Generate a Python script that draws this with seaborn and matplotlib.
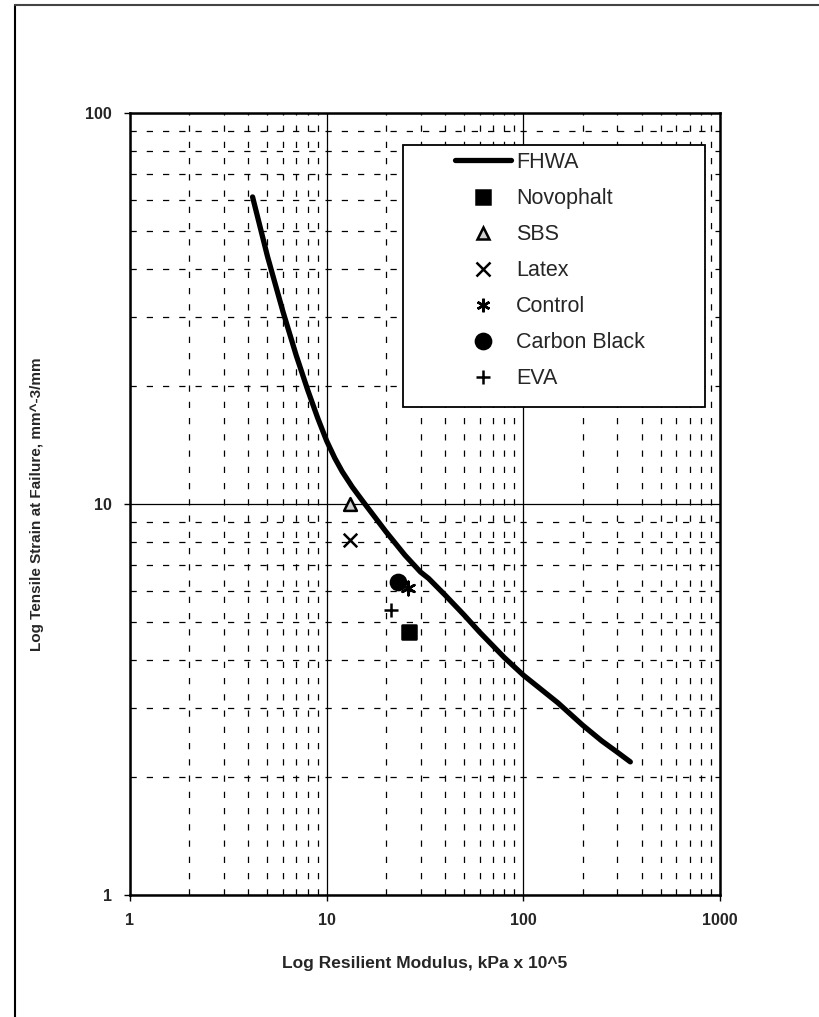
import numpy as np
import pandas as pd
import matplotlib
matplotlib.use("Agg")
import matplotlib.pyplot as plt
import seaborn as sns
from matplotlib.lines import Line2D
from matplotlib.patches import Rectangle
from matplotlib.ticker import LogLocator, NullFormatter, FixedLocator
from matplotlib import font_manager

# FHWA reference curve
fhwa_modulus = [4.2, 5.0, 6.0, 7.0, 8.0, 9.0, 10.0, 11.0, 12.0, 13.5, 15.3, 20.0, 25.0, 30.0, 33.0, 40.0, 50.0, 60.0, 80.0, 100.0, 150.0, 200.0, 250.0, 300.0, 350.0]
fhwa_strain = [61.0, 43.0, 31.0, 24.0, 19.6, 16.6, 14.5, 13.1, 12.1, 11.05, 10.15, 8.5, 7.4, 6.7, 6.45, 5.85, 5.2, 4.7, 4.05, 3.65, 3.1, 2.72, 2.48, 2.32, 2.19]

# Mixes
mix_names = ["Novophalt", "SBS", "Latex", "Control", "Carbon Black", "EVA"]
mix_modulus = [26.2, 13.1, 13.1, 25.9, 23.0, 21.2]
mix_strain = [4.7, 10.0, 8.1, 6.1, 6.3, 5.35]

x_ticks = [1, 10, 100, 1000]
y_ticks = [1, 10, 100]

sns.set_style("white")
plt.rcParams["font.family"] = ["Liberation Sans", "DejaVu Sans"]
names = {f.name for f in font_manager.fontManager.ttflist}
label_family = ["Liberation Sans Narrow", "Liberation Sans"] if "Liberation Sans Narrow" in names else ["Liberation Sans"]

W, H = 820, 1017
fig = plt.figure(figsize=(W/100, H/100), dpi=100)
ax = fig.add_axes([130/W, 1-895/H, 590/W, 782/H])

curve = pd.DataFrame({"x": fhwa_modulus, "y": fhwa_strain})
sns.lineplot(data=curve, x="x", y="y", ax=ax, color="black", lw=3.8,
             legend=False, sort=False, zorder=5)

markers = ["s", "^", "x", (6, 2, 0), "o", "+"]
sizes = [95, 85, 95, 95, 120, 95]
faces = ["black", "#cfcfcf", "black", "black", "black", "black"]
for name, xv, yv, m, s, fc in zip(mix_names, mix_modulus, mix_strain, markers, sizes, faces):
    df = pd.DataFrame({"x": [xv], "y": [yv]})
    sns.scatterplot(data=df, x="x", y="y", ax=ax, marker=m, s=s,
                    color=fc, edgecolor="black", linewidth=1.8, legend=False, zorder=6)

ax.set_xscale("log")
ax.set_yscale("log")
ax.set_xlim(1, 1000)
ax.set_ylim(1, 100)

ax.xaxis.set_major_locator(FixedLocator(x_ticks))
ax.yaxis.set_major_locator(FixedLocator(y_ticks))
ax.set_xticklabels([str(v) for v in x_ticks])
ax.set_yticklabels([str(v) for v in y_ticks])
ax.xaxis.set_minor_locator(LogLocator(base=10, subs=np.arange(2, 10)))
ax.yaxis.set_minor_locator(LogLocator(base=10, subs=np.arange(2, 10)))
ax.xaxis.set_minor_formatter(NullFormatter())
ax.yaxis.set_minor_formatter(NullFormatter())

ax.grid(which="major", color="black", lw=0.9, ls="-")
ax.grid(which="minor", color="black", lw=0.9, ls=(0, (5, 8)))
ax.set_axisbelow(True)

ax.tick_params(which="major", direction="out", length=4, width=1, color="black",
               labelsize=11.5, pad=9, bottom=True, left=True)
ax.tick_params(which="minor", length=0)
for lab in ax.get_xticklabels() + ax.get_yticklabels():
    lab.set_fontweight("bold")

for sp in ax.spines.values():
    sp.set_visible(True)
    sp.set_color("black")
    sp.set_linewidth(1.8)

ax.set_xlabel("Log Resilient Modulus, kPa x 10^5", fontsize=12.5, fontweight="bold",
              labelpad=20, family=label_family)
ax.set_ylabel("Log Tensile Strain at Failure, mm^-3/mm", fontsize=11, fontweight="bold",
              labelpad=30, family=label_family)

# legend: frame drawn separately for exact size
def ax_x(px):
    return (px - 130) / 590
def ax_y(py):
    return (895 - py) / 782

ax.add_patch(Rectangle((ax_x(403), ax_y(407)), ax_x(705) - ax_x(403), ax_y(145) - ax_y(407),
                       transform=ax.transAxes, facecolor="white", edgecolor="black",
                       lw=1.3, zorder=9))

handles = [Line2D([], [], color="black", lw=3.8)]
for m, s, fc in zip(markers, sizes, faces):
    handles.append(Line2D([], [], ls="none", marker=m, markersize=np.sqrt(s),
                          markerfacecolor=fc, markeredgecolor="black", markeredgewidth=1.8, color="black"))
labels = ["FHWA"] + mix_names
leg = ax.legend(handles, labels, loc="upper left", bbox_to_anchor=(ax_x(455), ax_y(152)),
                frameon=False, fontsize=15.5,
                handlelength=2.6, handletextpad=0.25, labelspacing=0.7,
                borderpad=0, borderaxespad=0)
leg.set_zorder(10)

# page border (left and top)
fig.add_artist(Line2D([15/W, 15/W], [0, 1-5/H], color="black", lw=1.5, transform=fig.transFigure))
fig.add_artist(Line2D([15/W, 1], [1-5/H, 1-5/H], color="#444444", lw=1.5, transform=fig.transFigure))

fig.savefig("out.png", dpi=100, facecolor="white")
